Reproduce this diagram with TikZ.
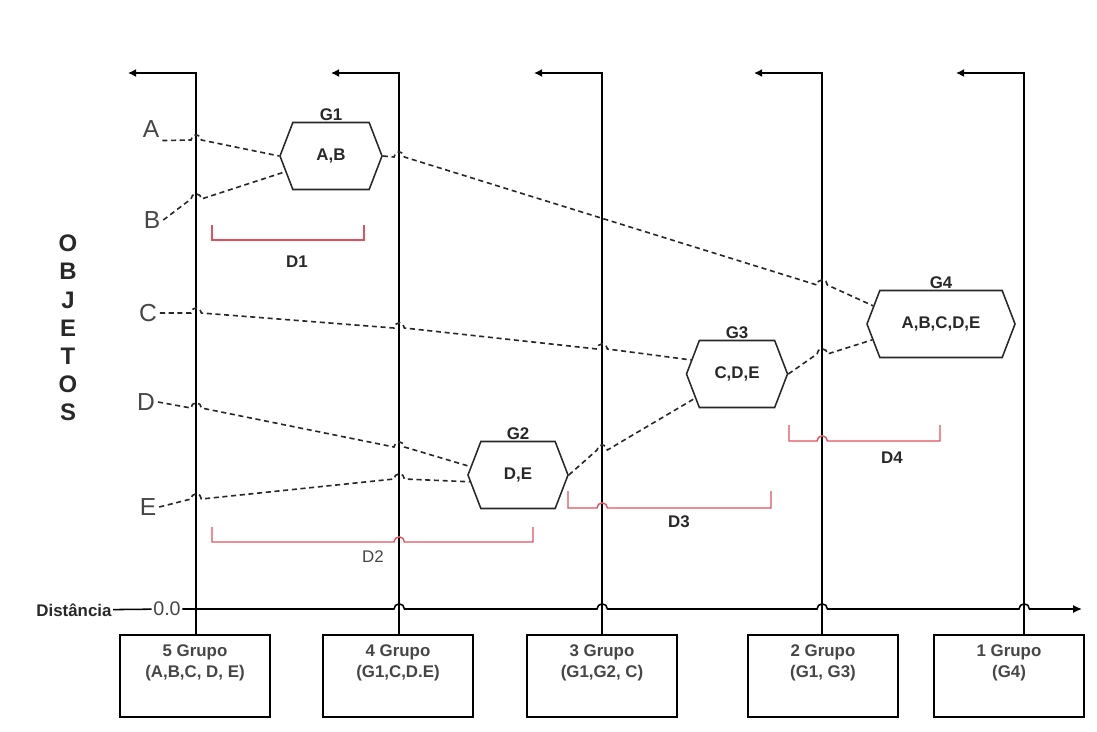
\documentclass[tikz,border=0pt]{standalone}
\usepackage{fontspec}
\setmainfont{Liberation Sans}
\usetikzlibrary{arrows.meta,positioning,shapes.symbols,calc}
\definecolor{inkgray}{RGB}{40,40,40}
\definecolor{txtgray}{RGB}{70,70,70}
\definecolor{distred}{RGB}{228,80,92}
\newcommand{\fs}[1]{\fontsize{#1}{#1}\selectfont}
\newcommand{\hop}[2]{-- (#1-5,#2) arc[start angle=180,end angle=0,radius=1.3mm]}

\begin{document}
\begin{tikzpicture}[
    x=0.025cm, y=-0.025cm,
    vline/.style={line width=1.1pt, black},
    arr/.style={vline, -{Latex[length=2mm,width=2mm]}},
    grpbox/.style={rectangle, draw=black, line width=1.2pt, minimum width=3.75cm, minimum height=2.05cm},
    grptxt/.style={font=\fontsize{12}{14.5}\selectfont\bfseries, text=txtgray, align=center},
    hexa/.style={signal, signal to=west and east, signal pointer angle=138, draw=inkgray, line width=1.1pt,
                 fill=white, minimum height=1.675cm, font=\fs{12}\bfseries, text=inkgray},
    hexlbl/.style={font=\fs{12}\bfseries, text=inkgray, inner sep=0.5pt},
    obj/.style={dash pattern=on 3.6pt off 2.6pt, line width=1.15pt, inkgray},
    objlbl/.style={font=\fs{17.5}, text=txtgray, inner sep=2pt},
    dist/.style={line width=1pt, distred},
    distlbl/.style={font=\fs{12}\bfseries, text=inkgray}
]
\useasboundingbox (0,0) rectangle (1097,731);

% groups at the bottom
\node[grpbox] (grp5) at (195,676) {};
\node[grptxt, below=1.5mm of grp5.north] (grp5txt) {5 Grupo\\(A,B,C, D, E)};
\node[grpbox] (grp4) at (398,676) {};
\node[grptxt, below=1.5mm of grp4.north] (grp4txt) {4 Grupo\\(G1,C,D.E)};
\node[grpbox] (grp3) at (602,676) {};
\node[grptxt, below=1.5mm of grp3.north] (grp3txt) {3 Grupo\\(G1,G2, C)};
\node[grpbox] (grp2) at (823,676) {};
\node[grptxt, below=1.5mm of grp2.north] (grp2txt) {2 Grupo\\(G1, G3)};
\node[grpbox] (grp1) at (1009,676) {};
\node[grptxt, below=1.5mm of grp1.north] (grp1txt) {1 Grupo\\(G4)};

\coordinate (top5) at (196,73);
\coordinate (top4) at (399,73);
\coordinate (top3) at (602,73);
\coordinate (top2) at (822,73);
\coordinate (top1) at (1024,73);

\draw[arr] (grp5.north -| top5) -- (top5) -- ++(-68,0);
\draw[arr] (grp4.north -| top4) -- (top4) -- ++(-68,0);
\draw[arr] (grp3.north -| top3) -- (top3) -- ++(-68,0);
\draw[arr] (grp2.north -| top2) -- (top2) -- ++(-68,0);
\draw[arr] (grp1.north -| top1) -- (top1) -- ++(-68,0);

% distance axis
\node[font=\fs{12}\bfseries, text=inkgray, inner sep=1pt] (distlabel) at (74,610) {Distância};
\node[font=\fs{14}, text=txtgray, inner sep=1pt] (zero) at (167,609) {0.0};
\draw[vline] (distlabel) -- (zero);
\draw[vline, -{Latex[length=2.2mm,width=2mm]}] (zero) \hop{399}{609} \hop{602}{609} \hop{822}{609} \hop{1024}{609} -- (1082,609);

% objects
\node[font=\fontsize{17}{20}\selectfont\bfseries, text=inkgray, align=center] (objetos) at (68,328) {O\\B\\J\\E\\T\\O\\S};
\node[objlbl] (objA) at (151,129) {A};
\node[objlbl] (objB) at (152,220) {B};
\node[objlbl] (objC) at (148,313) {C};
\node[objlbl] (objD) at (146,402) {D};
\node[objlbl] (objE) at (148,507) {E};

% clusters
\node[hexa, minimum width=2.55cm, label={[hexlbl]above:G1}] (G1) at (331,156) {A,B};
\node[hexa, minimum width=2.5cm, label={[hexlbl]above:G2}] (G2) at (518,475) {D,E};
\node[hexa, minimum width=2.525cm, label={[hexlbl]above:G3}] (G3) at (737,374) {C,D,E};
\node[hexa, minimum width=3.7cm, label={[hexlbl]above:G4}] (G4) at (941,324) {A,B,C,D,E};

\draw[obj] (objA.south east) \hop{196}{140} -- (G1.west);
\draw[obj] (objB.east) \hop{196}{199} -- (G1.199);
\draw[obj] (G1.east) \hop{399}{157} \hop{822}{285} -- (G4.165);
\draw[obj] (objC.east) \hop{196}{313} \hop{399}{328} \hop{602}{349} -- (G3.163);
\draw[obj] (objD.east) \hop{196}{408} \hop{399}{447} -- (G2.170);
\draw[obj] (objE.east) \hop{196}{499} \hop{399}{479} -- (G2.188);
\draw[obj] (G2.east) \hop{602}{450} -- (G3.210);
\draw[obj] (G3.east) \hop{822}{354} -- (G4.193);

% distances
\draw[dist] (212,225) -- (212,240) -- (364,240) -- (364,225);
\node[distlbl] (D1) at (297,262) {D1};
\draw[dist] (212,527) -- (212,542) \hop{399}{542} -- (533,542) -- (533,527);
\node[distlbl, font=\fs{12}, text=txtgray] (D2) at (373,557) {D2};
\draw[dist] (568,491) -- (568,508) \hop{602}{508} -- (771,508) -- (771,491);
\node[distlbl] (D3) at (679,522) {D3};
\draw[dist] (789,425) -- (789,441) \hop{822}{441} -- (940,441) -- (940,425);
\node[distlbl] (D4) at (892,458) {D4};

\end{tikzpicture}
\end{document}
